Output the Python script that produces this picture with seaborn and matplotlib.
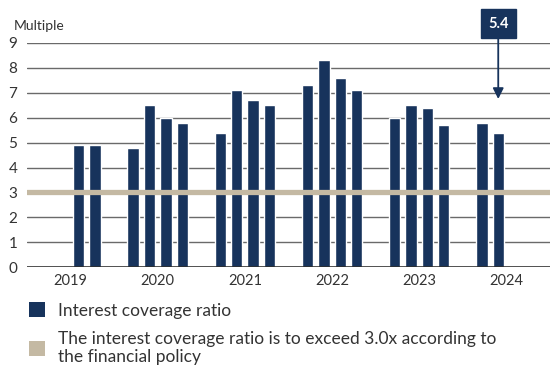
import matplotlib
matplotlib.use("Agg")
import matplotlib.pyplot as plt
from matplotlib.patches import Patch
import pandas as pd
import seaborn as sns

# Quarterly interest coverage ratio (multiple), by year
years = ["2019", "2020", "2021", "2022", "2023", "2024"]
quarters = ["Q1", "Q2", "Q3", "Q4"]
ratio_2019 = [None, None, 4.9, 4.9]
ratio_2020 = [4.8, 6.5, 6.0, 5.8]
ratio_2021 = [5.4, 7.1, 6.7, 6.5]
ratio_2022 = [7.3, 8.3, 7.6, 7.1]
ratio_2023 = [6.0, 6.5, 6.4, 5.7]
ratio_2024 = [5.8, 5.4, None, None]
policy_floor = 3.0
y_ticks = list(range(0, 10))

NAVY = "#17335c"
BEIGE = "#c4b9a3"
GRID = "#6a6a6a"
TEXT = "#333333"

rows = []
for yr, vals in zip(years, [ratio_2019, ratio_2020, ratio_2021,
                            ratio_2022, ratio_2023, ratio_2024]):
    for q, v in zip(quarters, vals):
        rows.append({"year": yr, "quarter": q, "ratio": v})
df = pd.DataFrame(rows).astype({"ratio": float})

sns.set_theme(style="white")
plt.rcParams["font.family"] = ["Lato", "DejaVu Sans"]

fig = plt.figure(figsize=(5.5, 3.67), dpi=100)
ax = fig.add_axes([0.049, 0.272, 0.951, 0.611])

sns.barplot(data=df, x="year", y="ratio", hue="quarter",
            order=years, hue_order=quarters,
            palette=[NAVY] * 4, width=0.75, gap=0.3,
            saturation=1, errorbar=None, legend=False, ax=ax, zorder=3)

ax.set_ylim(0, 9)
ax.set_xlim(-0.5, 5.5)
ax.set_yticks(y_ticks)
for t in y_ticks[1:]:
    ax.axhline(t, color=GRID, lw=1.0, zorder=1)
ax.axhline(0, color="#222222", lw=1.1, zorder=4)
ax.axhline(policy_floor, color=BEIGE, lw=3.8, zorder=5)

for side in ["top", "right", "left", "bottom"]:
    ax.spines[side].set_visible(False)
ax.set_xlabel("")
ax.set_ylabel("")
ax.tick_params(axis="y", length=0, pad=7, labelsize=11, labelcolor=TEXT)
ax.tick_params(axis="x", length=0, pad=5, labelsize=10.5, labelcolor=TEXT)

fig.text(0.025, 0.93, "Multiple", fontsize=10, color=TEXT, va="center")

# Callout on the latest quarter
latest_val = ratio_2024[1]
slot = 0.75 / 4
latest_x = years.index("2024") + (1 - 1.5) * slot
ax.annotate(f"{latest_val:.1f}", xy=(latest_x, latest_val + 1.35),
            xytext=(latest_x, 9.78), annotation_clip=False,
            ha="center", va="center", fontsize=10.5, fontweight="bold",
            color="white",
            bbox=dict(boxstyle="square,pad=0.5", fc=NAVY, ec=NAVY),
            arrowprops=dict(arrowstyle="-|>", color=NAVY, lw=1.3,
                            mutation_scale=16, shrinkA=0, shrinkB=0),
            zorder=6)

handles = [Patch(facecolor=NAVY, edgecolor="none"),
           Patch(facecolor=BEIGE, edgecolor="none")]
labels = ["Interest coverage ratio",
          "The interest coverage ratio is to exceed 3.0x according to\nthe financial policy"]
fig.legend(handles, labels, loc="upper left", bbox_to_anchor=(0.053, 0.176),
           frameon=False, fontsize=12.5, handlelength=0.92, handleheight=0.92,
           handletextpad=0.75, labelspacing=0.7, borderpad=0, borderaxespad=0,
           labelcolor=TEXT)

fig.savefig("out.png", dpi=100)
